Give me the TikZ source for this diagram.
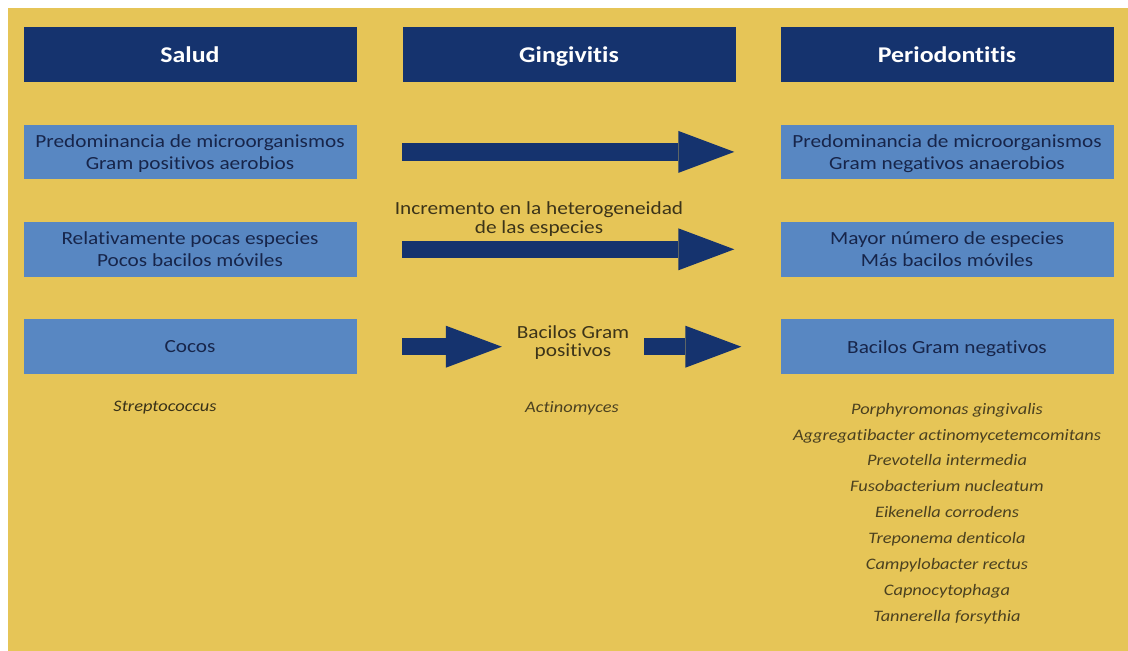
\documentclass[tikz,border=0pt]{standalone}
\usepackage{fontspec}
\setmainfont[FakeStretch=1.15, Ligatures=NoCommon]{Carlito}
\usetikzlibrary{arrows.meta}
\usetikzlibrary{positioning}

\definecolor{fondo}{HTML}{E6C557}
\definecolor{marino}{HTML}{15336E}
\definecolor{celeste}{HTML}{5887C2}
\definecolor{tinta}{HTML}{17254A}
\definecolor{oliva}{HTML}{4B4120}

\tikzset{
    titulo/.style={fill=marino, text=white, font=\fontsize{22.5}{27}\selectfont\bfseries,
        minimum width=333pt, minimum height=54.5pt, inner sep=0pt, text height=15pt, text depth=0pt},
    caja/.style={fill=celeste, text=tinta, font=\fontsize{18.5}{22}\selectfont, align=center,
        minimum width=333pt, minimum height=54.5pt, inner sep=0pt, text depth=0pt},
    nota/.style={text=oliva!80!black, font=\fontsize{18.5}{19}\selectfont, align=center, inner sep=0pt},
    especie/.style={text=oliva, font=\itshape\fontsize{16}{25.9}\selectfont, align=center, inner sep=0pt},
    flecha/.style={marino, line width=17.5pt, -{Triangle[length=56pt, width=42pt, line width=0pt]}},
}

\begin{document}
\begin{tikzpicture}[x=1pt, y=-1pt, node distance=42.5pt]
    % fondo
    \fill[white] (0, 0) rectangle (1128, 651);
    \fill[fondo] (8, 8) rectangle (1128, 651);

    % cabeceras
    \node[titulo] (salud) at (190, 54.5) {Salud};
    \node[titulo] (gingi) at (569, 54.5) {Gingivitis};
    \node[titulo] (perio) at (947, 54.5) {Periodontitis};

    % columna salud
    \node[caja, below=of salud] (s1) {Predominancia de microorganismos\\Gram positivos aerobios};
    \node[caja, below=of s1] (s2) {Relativamente pocas especies\\Pocos bacilos móviles};
    \node[caja, below=of s2] (s3) {Cocos};

    % columna periodontitis
    \node[caja, below=of perio] (p1) {Predominancia de microorganismos\\Gram negativos anaerobios};
    \node[caja, below=of p1] (p2) {Mayor número de especies\\Más bacilos móviles};
    \node[caja, below=of p2] (p3) {Bacilos Gram negativos};

    % gingivitis
    \node[nota] (incr) at (539, 219.5) {Incremento en la heterogeneidad\\de las especies};
    \node[nota, minimum width=142pt, font=\fontsize{18.5}{18}\selectfont] (bgp) at (573, 343) {Bacilos Gram\\positivos};

    % flechas
    \draw[flecha] (gingi.west |- s1.center) -- ([xshift=-46pt]p1.west);
    \draw[flecha] (gingi.west |- s2.center) -- ([xshift=-46pt]p2.west);
    \draw[flecha] (gingi.west |- s3.center) -- (bgp.west |- s3.center);
    \draw[flecha] (bgp.east |- s3.center) -- ([xshift=-39pt]p3.west);

    % especies
    \node[especie, text=oliva!75!black] (strep) at (165, 408) {Streptococcus};
    \node[especie] (actino) at (572, 408) {Actinomyces};
    \node[especie] (lista) at (947, 513.5) {Porphyromonas gingivalis\\Aggregatibacter actinomycetemcomitans\\Prevotella intermedia\\Fusobacterium nucleatum\\Eikenella corrodens\\Treponema denticola\\Campylobacter rectus\\Capnocytophaga\\Tannerella forsythia};
\end{tikzpicture}
\end{document}
